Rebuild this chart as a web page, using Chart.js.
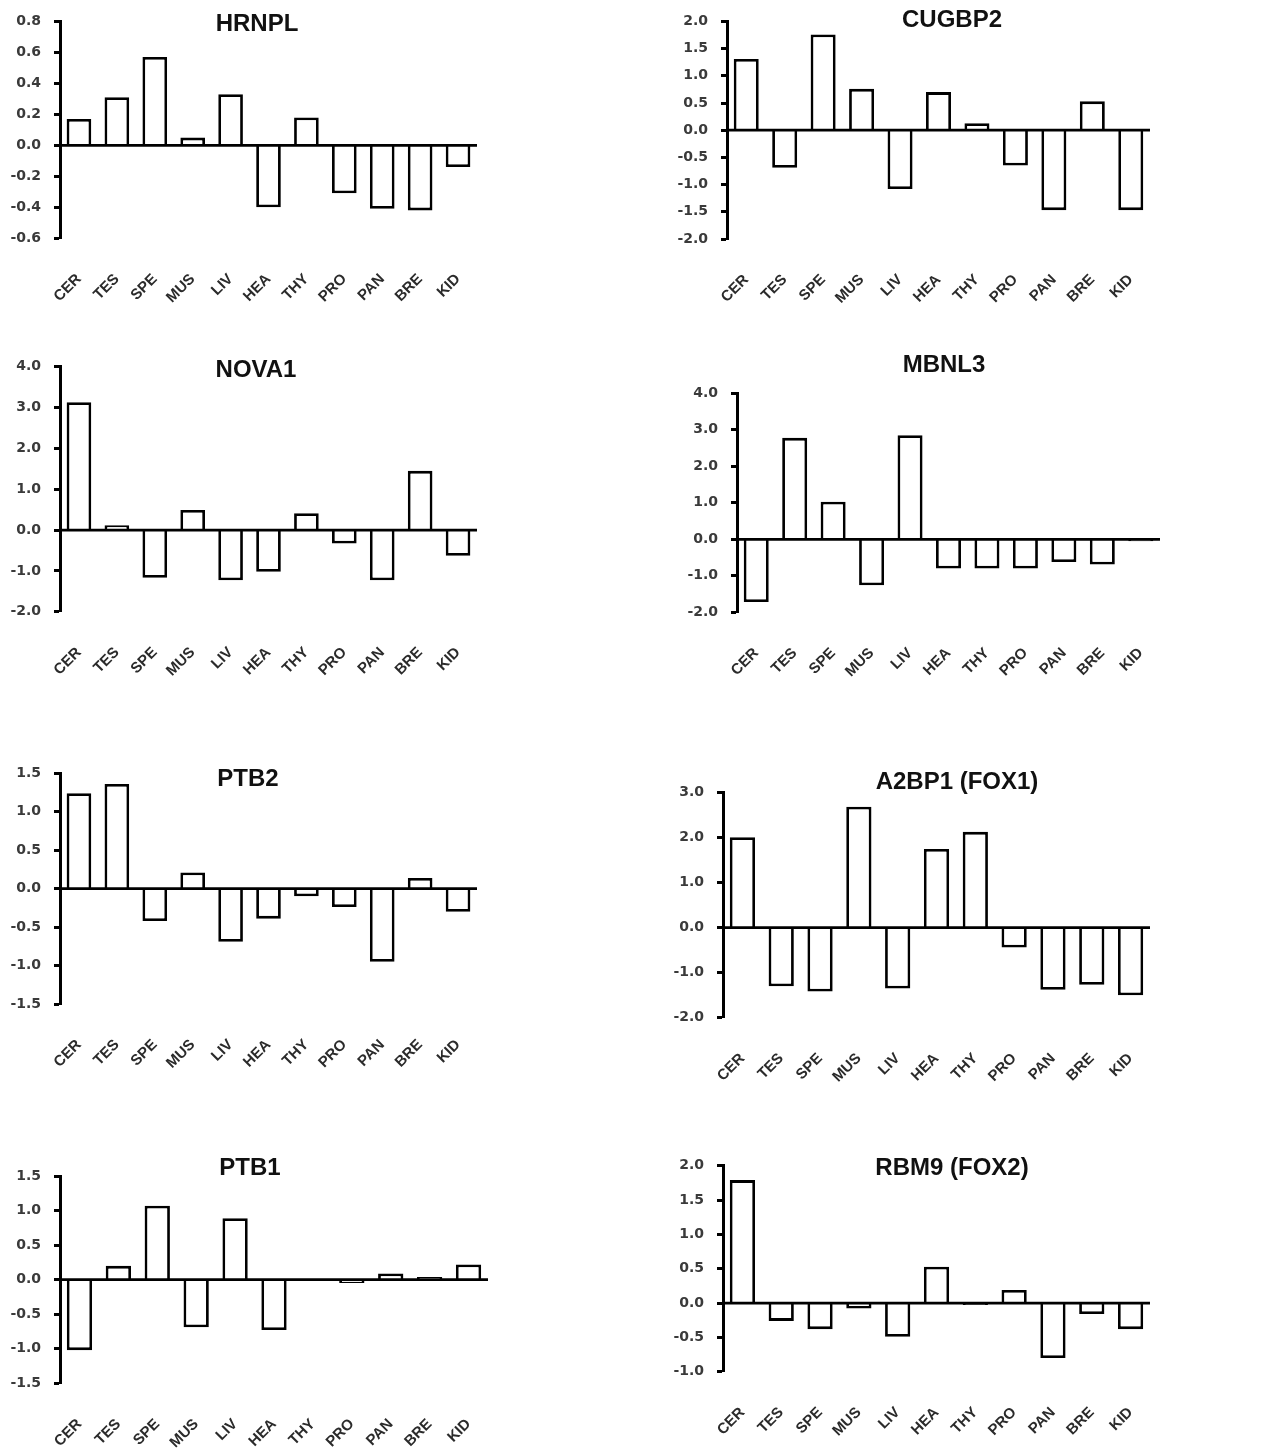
<!DOCTYPE html>
<html>
<head>
<meta charset="utf-8">
<script src="https://cdn.jsdelivr.net/npm/chart.js@4.4.1/dist/chart.umd.min.js"></script>
<style>
  html, body { margin: 0; padding: 0; background: #fff; }
  #page { position: relative; width: 1267px; height: 1452px; overflow: hidden; background: #fff; }
  #page canvas { position: absolute; }
</style>
</head>
<body>
<div id="page"></div>
<script>
// Tissue abbreviations along every x axis
const tissues = ['CER', 'TES', 'SPE', 'MUS', 'LIV', 'HEA', 'THY', 'PRO', 'PAN', 'BRE', 'KID'];

// Relative expression per splicing factor (same tissue order)
const hrnplValues  = [0.17, 0.31, 0.57, 0.05, 0.33, -0.40, 0.18, -0.31, -0.41, -0.42, -0.14];
const cugbp2Values = [1.31, -0.69, 1.76, 0.76, -1.08, 0.70, 0.13, -0.65, -1.47, 0.53, -1.47];
const nova1Values  = [3.13, 0.12, -1.17, 0.49, -1.23, -1.02, 0.41, -0.33, -1.23, 1.45, -0.63];
const mbnl3Values  = [-1.72, 2.78, 1.03, -1.26, 2.85, -0.80, -0.80, -0.80, -0.62, -0.69, -0.05];
const ptb2Values   = [1.24, 1.36, -0.42, 0.21, -0.69, -0.39, -0.10, -0.24, -0.95, 0.14, -0.30];
const a2bp1Values  = [2.01, -1.30, -1.42, 2.69, -1.35, 1.75, 2.13, -0.44, -1.38, -1.27, -1.50];
const ptb1Values   = [-1.02, 0.20, 1.07, -0.69, 0.89, -0.73, -0.02, -0.05, 0.09, 0.04, 0.22];
const rbm9Values   = [1.79, -0.26, -0.38, -0.08, -0.49, 0.53, -0.03, 0.19, -0.80, -0.16, -0.38];

// Y-axis tick values per panel
const hrnplTicks  = [-0.6, -0.4, -0.2, 0.0, 0.2, 0.4, 0.6, 0.8];
const cugbp2Ticks = [-2.0, -1.5, -1.0, -0.5, 0.0, 0.5, 1.0, 1.5, 2.0];
const nova1Ticks  = [-2.0, -1.0, 0.0, 1.0, 2.0, 3.0, 4.0];
const mbnl3Ticks  = [-2.0, -1.0, 0.0, 1.0, 2.0, 3.0, 4.0];
const ptb2Ticks   = [-1.5, -1.0, -0.5, 0.0, 0.5, 1.0, 1.5];
const a2bp1Ticks  = [-2.0, -1.0, 0.0, 1.0, 2.0, 3.0];
const ptb1Ticks   = [-1.5, -1.0, -0.5, 0.0, 0.5, 1.0, 1.5];
const rbm9Ticks   = [-1.0, -0.5, 0.0, 0.5, 1.0, 1.5, 2.0];

// Panel titles
const titles = ['HRNPL', 'CUGBP2', 'NOVA1', 'MBNL3', 'PTB2', 'A2BP1 (FOX1)', 'PTB1', 'RBM9 (FOX2)'];

// Page layout: canvas frame [x, y, w, h], plot area [left, top, right, bottom], title centre [x, y]
const panels = [
  { title: titles[0], values: hrnplValues,  ticks: hrnplTicks,  frame: [0, 0, 633, 340],      plot: [60, 20.7, 477, 238.3],    titleAt: [257, 24] },
  { title: titles[1], values: cugbp2Values, ticks: cugbp2Ticks, frame: [633, 0, 634, 340],    plot: [727, 20.7, 1150, 239],    titleAt: [952, 20] },
  { title: titles[2], values: nova1Values,  ticks: nova1Ticks,  frame: [0, 340, 633, 390],    plot: [60, 366.7, 477, 611.7],   titleAt: [256, 370] },
  { title: titles[3], values: mbnl3Values,  ticks: mbnl3Ticks,  frame: [633, 340, 634, 390],  plot: [737, 393.3, 1160, 612.3], titleAt: [944, 365] },
  { title: titles[4], values: ptb2Values,   ticks: ptb2Ticks,   frame: [0, 730, 633, 380],    plot: [60, 773.3, 477, 1004],    titleAt: [248, 779] },
  { title: titles[5], values: a2bp1Values,  ticks: a2bp1Ticks,  frame: [633, 730, 634, 380],  plot: [723, 792.7, 1150, 1017.7], titleAt: [957, 782] },
  { title: titles[6], values: ptb1Values,   ticks: ptb1Ticks,   frame: [0, 1090, 633, 400],   plot: [60, 1176, 488, 1383.3],   titleAt: [250, 1168] },
  { title: titles[7], values: rbm9Values,   ticks: rbm9Ticks,   frame: [633, 1090, 634, 400], plot: [723, 1165.7, 1150, 1371.7], titleAt: [952, 1168] }
];

const X_AXIS_HEIGHT = 90;

// Gene name drawn inside the upper part of each panel
const panelTitle = {
  id: 'panelTitle',
  afterDraw(chart, args, opts) {
    const ctx = chart.ctx;
    ctx.save();
    ctx.font = 'bold 24px "Liberation Sans", Arial, sans-serif';
    ctx.fillStyle = '#111';
    ctx.textAlign = 'center';
    ctx.textBaseline = 'middle';
    ctx.fillText(opts.text, opts.x, opts.y);
    ctx.restore();
  }
};

// Horizontal baseline at y = 0, drawn over the bars
const zeroLine = {
  id: 'zeroLine',
  afterDatasetsDraw(chart) {
    const { ctx, chartArea } = chart;
    const y = chart.scales.y.getPixelForValue(0);
    ctx.save();
    ctx.strokeStyle = '#000';
    ctx.lineWidth = 2.8;
    ctx.beginPath();
    ctx.moveTo(chartArea.left, y);
    ctx.lineTo(chartArea.right, y);
    ctx.stroke();
    ctx.restore();
  }
};

const page = document.getElementById('page');

panels.forEach(p => {
  const [fx, fy, fw, fh] = p.frame;
  const [pl, pt, pr, pb] = p.plot;
  const canvas = document.createElement('canvas');
  canvas.width = fw;
  canvas.height = fh;
  canvas.style.left = fx + 'px';
  canvas.style.top = fy + 'px';
  canvas.style.width = fw + 'px';
  canvas.style.height = fh + 'px';
  page.appendChild(canvas);

  const yWidth = pl - fx;
  new Chart(canvas, {
    type: 'bar',
    data: {
      labels: tissues,
      datasets: [{
        data: p.values,
        backgroundColor: '#ffffff',
        borderColor: '#000000',
        borderWidth: 2.8,
        borderSkipped: 'start',
        barPercentage: 0.65,
        categoryPercentage: 1.0
      }]
    },
    plugins: [zeroLine, panelTitle],
    options: {
      responsive: false,
      animation: false,
      devicePixelRatio: 1,
      layout: {
        padding: {
          left: 0,
          top: pt - fy,
          right: fx + fw - pr,
          bottom: fy + fh - pb - X_AXIS_HEIGHT
        }
      },
      plugins: {
        legend: { display: false },
        tooltip: { enabled: false },
        panelTitle: { text: p.title, x: p.titleAt[0] - fx, y: p.titleAt[1] - fy }
      },
      scales: {
        x: {
          type: 'category',
          grid: { display: false },
          border: { display: false },
          afterFit(scale) { scale.height = X_AXIS_HEIGHT; },
          ticks: {
            autoSkip: false,
            maxRotation: 45,
            minRotation: 45,
            padding: 24,
            color: '#2b2b2b',
            font: { family: '"Liberation Sans", Arial, sans-serif', size: 15, weight: 'bold' }
          }
        },
        y: {
          min: p.ticks[0],
          max: p.ticks[p.ticks.length - 1],
          afterBuildTicks(scale) { scale.ticks = p.ticks.map(v => ({ value: v })); },
          afterFit(scale) { scale.width = yWidth; },
          border: { display: true, color: '#000', width: 3 },
          grid: {
            drawOnChartArea: false,
            color: 'rgba(0,0,0,0)',
            tickColor: '#000',
            tickLength: 6,
            tickWidth: 3
          },
          ticks: {
            padding: 13,
            color: '#3a3a3a',
            font: { family: '"DejaVu Sans", sans-serif', size: 14, weight: 'bold' },
            callback: v => v.toFixed(1)
          }
        }
      }
    }
  });
});
</script>
</body>
</html>
